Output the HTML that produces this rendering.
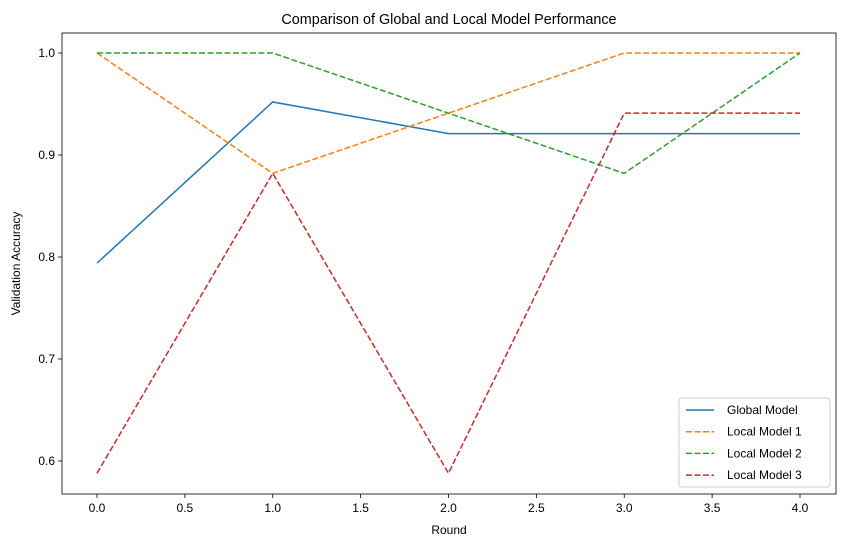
<!DOCTYPE html>
<html><head><meta charset="utf-8"><style>
body{margin:0;background:#fff;}
svg{display:block;font-family:"Liberation Sans","DejaVu Sans",sans-serif;}
</style></head><body>
<svg id="chart" width="846" height="547" viewBox="0 0 846 547">
<rect x="0" y="0" width="846" height="547" fill="#fff"/>
</svg>
<script>
const rounds = [0, 1, 2, 3, 4];
const globalModel = [0.794, 0.952, 0.921, 0.921, 0.921];
const local1 = [1.0, 0.882, 0.941, 1.0, 1.0];
const local2 = [1.0, 1.0, 0.941, 0.882, 1.0];
const local3 = [0.588, 0.882, 0.588, 0.941, 0.941];
const xTicks = [0, 0.5, 1, 1.5, 2, 2.5, 3, 3.5, 4];
const yTicks = [0.6, 0.7, 0.8, 0.9, 1.0];
const seriesNames = ["Global Model", "Local Model 1", "Local Model 2", "Local Model 3"];

const NS = "http://www.w3.org/2000/svg";
const svg = document.getElementById("chart");
const L = 62, R = 836, T = 33, B = 494;
const xs = v => 97 + v * 175.75;
const ys = v => 461 - (v - 0.6) * 1020;
function mk(tag, attrs, parent) {
  const e = document.createElementNS(NS, tag);
  for (const k in attrs) e.setAttribute(k, attrs[k]);
  (parent || svg).appendChild(e);
  return e;
}
xTicks.forEach(t => {
  const g = mk("g", {});
  
  
  mk("line", {x1: xs(t), x2: xs(t), y1: B, y2: B + 4, stroke: "#000", "stroke-width": 0.8}, g);
  const tx = mk("text", {x: xs(t), y: B + 18, "text-anchor": "middle", "font-size": 12}, g);
  tx.textContent = t.toFixed(1);
});
yTicks.forEach(t => {
  const g = mk("g", {});
  
  
  mk("line", {x1: L - 4, x2: L, y1: ys(t), y2: ys(t), stroke: "#000", "stroke-width": 0.8}, g);
  const tx = mk("text", {x: L - 7, y: ys(t) + 4, "text-anchor": "end", "font-size": 12}, g);
  tx.textContent = t.toFixed(1);
});
const data = [globalModel, local1, local2, local3];
const colors = ["#1f77b4", "#ff7f0e", "#2ca02c", "#d62728"];
const dashes = ["", "6,2.5", "6,2.5", "6,2.5"];
const slugs = ["global-model-line", "local-model-1-line", "local-model-2-line", "local-model-3-line"];
data.forEach((s, i) => {
  const p = mk("polyline", {points: s.map((v, j) => xs(rounds[j]) + "," + ys(v)).join(" "), fill: "none", stroke: colors[i], "stroke-width": 1.5, "stroke-dasharray": dashes[i]});
  
  
});
const fr = mk("rect", {x: L, y: T, width: R - L, height: B - T, fill: "none", stroke: "#000", "stroke-width": 0.8});


const title = mk("text", {x: (L + R) / 2, y: 24, "text-anchor": "middle", "font-size": 14.4});
title.textContent = "Comparison of Global and Local Model Performance";


const xl = mk("text", {x: (L + R) / 2, y: 534, "text-anchor": "middle", "font-size": 12});
xl.textContent = "Round";


const yl = mk("text", {x: 20, y: (T + B) / 2, "text-anchor": "middle", "font-size": 12, transform: "rotate(-90 20 " + (T + B) / 2 + ")"});
yl.textContent = "Validation Accuracy";


const lg = mk("g", {});


mk("rect", {x: 679, y: 398, width: 151, height: 89, rx: 3, fill: "#fff", stroke: "#ccc", "stroke-width": 1}, lg);
seriesNames.forEach((n, i) => {
  const y = 410 + i * 21.7;
  const e = mk("g", {}, lg);
  
  
  mk("line", {x1: 686, x2: 714, y1: y, y2: y, stroke: colors[i], "stroke-width": 1.5, "stroke-dasharray": dashes[i]}, e);
  const t = mk("text", {x: 727, y: y + 4, "font-size": 12}, e);
  t.textContent = n;
});
</script>
</body></html>
